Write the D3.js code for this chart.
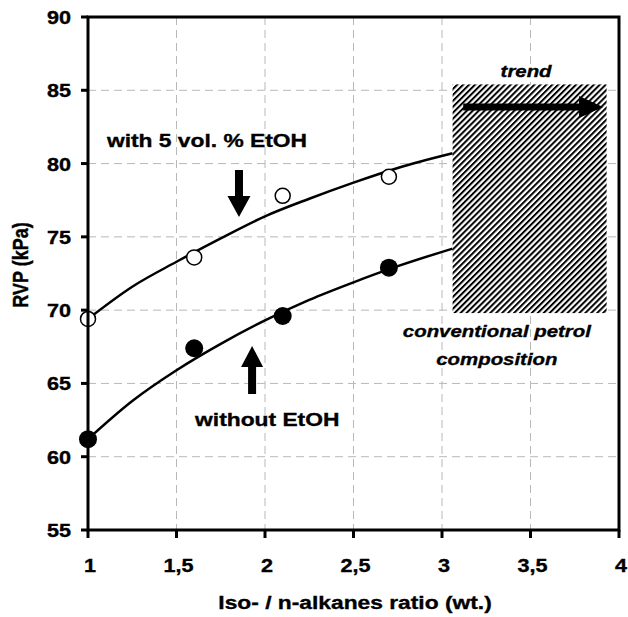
<!DOCTYPE html>
<html><head><meta charset="utf-8">
<script src="https://cdn.jsdelivr.net/npm/d3@7"></script>
<style>body{margin:0;background:#fff}svg{display:block}</style>
</head><body>
<svg id="c" width="628" height="617"></svg>
<script>
// ---- data ----
const xTicks = [1, 1.5, 2, 2.5, 3, 3.5, 4];
const xTickLabels = ["1", "1,5", "2", "2,5", "3", "3,5", "4"];
const yTicks = [55, 60, 65, 70, 75, 80, 85, 90];
const withEtohX = [1, 1.6, 2.1, 2.7];
const withEtohY = [69.4, 73.6, 77.8, 79.1];
const withoutEtohX = [1, 1.6, 2.1, 2.7];
const withoutEtohY = [61.2, 67.4, 69.6, 72.9];
const fitX = [1, 1.25, 1.5, 1.75, 2, 2.25, 2.5, 2.75, 3.06];
const fitWithY = [69.4, 71.6, 73.3, 74.9, 76.4, 77.6, 78.7, 79.7, 80.7];
const fitWithoutY = [61.2, 63.8, 65.9, 67.7, 69.3, 70.7, 71.9, 73.0, 74.2];
const boxX = [3.06, 3.93];
const boxY = [69.8, 85.4];
const trendArrowX = [3.12, 3.91];
const trendArrowY = 83.86;
const downArrow = {x: 1.853, from: 79.56, to: 76.36};
const upArrow = {x: 1.927, from: 64.28, to: 67.56};

// ---- layout ----
const svg = d3.select("#c");
const x = d3.scaleLinear().domain([1, 4]).range([88, 619]);
const y = d3.scaleLinear().domain([55, 90]).range([530, 17]);
const SX = 1.2;
const FONT = "'Liberation Sans', Arial, sans-serif";

function txt(px, py, s, size, anchor, italic, rot) {
  const t = svg.append("text")
    .attr("transform", `translate(${px},${py}) scale(${SX},1)` + (rot ? ` rotate(${rot})` : ""))
    .attr("text-anchor", anchor)
    .attr("font-family", FONT)
    .attr("font-weight", "bold")
    .attr("font-size", size)
    .attr("fill", "#000")
    .attr("stroke", "#000")
    .attr("stroke-width", 0.35)
    .text(s);
  if (italic) t.attr("font-style", "italic");
  return t;
}

const defs = svg.append("defs");
const pat = defs.append("pattern").attr("id", "hatch")
  .attr("patternUnits", "userSpaceOnUse").attr("width", 4.2).attr("height", 4.2)
  .attr("patternTransform", "rotate(45)");
pat.append("rect").attr("width", 4.2).attr("height", 4.2).attr("fill", "#fff");
pat.append("rect").attr("x", 0).attr("width", 2.0).attr("height", 4.2).attr("fill", "#000");

// grid
const grid = svg.append("g").attr("stroke", "#b8b8b8").attr("stroke-width", 1).attr("stroke-dasharray", "8,5");
xTicks.slice(1, -1).forEach(v => grid.append("line").attr("x1", x(v)).attr("x2", x(v)).attr("y1", y(90)).attr("y2", y(55)));
yTicks.slice(1, -1).forEach(v => grid.append("line").attr("y1", y(v)).attr("y2", y(v)).attr("x1", x(1)).attr("x2", x(4)));

// fit curves
const line = d3.line().x(d => x(d[0])).y(d => y(d[1])).curve(d3.curveMonotoneX);
svg.append("path").attr("d", line(fitX.map((v, i) => [v, fitWithY[i]])))
  .attr("fill", "none").attr("stroke", "#000").attr("stroke-width", 2.5);
svg.append("path").attr("d", line(fitX.map((v, i) => [v, fitWithoutY[i]])))
  .attr("fill", "none").attr("stroke", "#000").attr("stroke-width", 2.5);

// points
withEtohX.forEach((v, i) => svg.append("circle").attr("cx", x(v)).attr("cy", y(withEtohY[i]))
  .attr("r", 7.5).attr("fill", "#fff").attr("stroke", "#000").attr("stroke-width", 1.5));
withoutEtohX.forEach((v, i) => svg.append("circle").attr("cx", x(v)).attr("cy", y(withoutEtohY[i]))
  .attr("r", 9).attr("fill", "#000"));

// hatched box
svg.append("rect").attr("x", x(boxX[0])).attr("y", y(boxY[1]))
  .attr("width", x(boxX[1]) - x(boxX[0])).attr("height", y(boxY[0]) - y(boxY[1]))
  .attr("fill", "url(#hatch)");

// arrows (block arrows drawn as polygons)
function arrow(x1, y1, x2, y2, shaftW, headW, headL) {
  const dx = x2 - x1, dy = y2 - y1, L = Math.hypot(dx, dy);
  const ux = dx / L, uy = dy / L, nx = -uy, ny = ux;
  const p = (a, b) => [x1 + ux * a + nx * b, y1 + uy * a + ny * b];
  const pts = [p(0, -shaftW / 2), p(L - headL, -shaftW / 2), p(L - headL, -headW / 2), p(L, 0),
               p(L - headL, headW / 2), p(L - headL, shaftW / 2), p(0, shaftW / 2)];
  svg.append("path").attr("d", "M" + pts.map(q => q.join(",")).join("L") + "Z").attr("fill", "#000");
}
arrow(x(trendArrowX[0]), y(trendArrowY), x(trendArrowX[1]), y(trendArrowY), 7, 22, 24);
arrow(x(downArrow.x), y(downArrow.from), x(downArrow.x), y(downArrow.to), 8, 23, 21);
arrow(x(upArrow.x), y(upArrow.from), x(upArrow.x), y(upArrow.to), 8, 22, 21);

// annotations
txt(x(1.107), y(81.13), "with 5 vol. % EtOH", 19, "start");
txt(x(1.605), y(62.1), "without EtOH", 19, "start");
txt(x(3.475), y(85.9), "trend", 17, "middle", true);
txt(x(3.31), y(68.17), "conventional petrol", 17, "middle", true);
txt(x(3.31), y(66.26), "composition", 17, "middle", true);

// frame & ticks
const ax = svg.append("g").attr("stroke", "#000").attr("stroke-width", 3);
ax.append("rect").attr("x", x(1)).attr("y", y(90)).attr("width", x(4) - x(1)).attr("height", y(55) - y(90)).attr("fill", "none");
yTicks.forEach(v => ax.append("line").attr("x1", x(1) - 7).attr("x2", x(1)).attr("y1", y(v)).attr("y2", y(v)));
xTicks.forEach(v => ax.append("line").attr("x1", x(v)).attr("x2", x(v)).attr("y1", y(55)).attr("y2", y(55) + 8));

yTicks.forEach(v => txt(x(1) - 17, y(v) + 7, String(v), 18, "end"));
xTicks.forEach((v, i) => txt(x(v) + 2, 572, xTickLabels[i], 18, "middle"));

// axis titles
txt(355, 609, "Iso- / n-alkanes ratio (wt.)", 19, "middle");
txt(28, 265, "RVP (kPa)", 18, "middle", false, -90);
</script>
</body></html>
